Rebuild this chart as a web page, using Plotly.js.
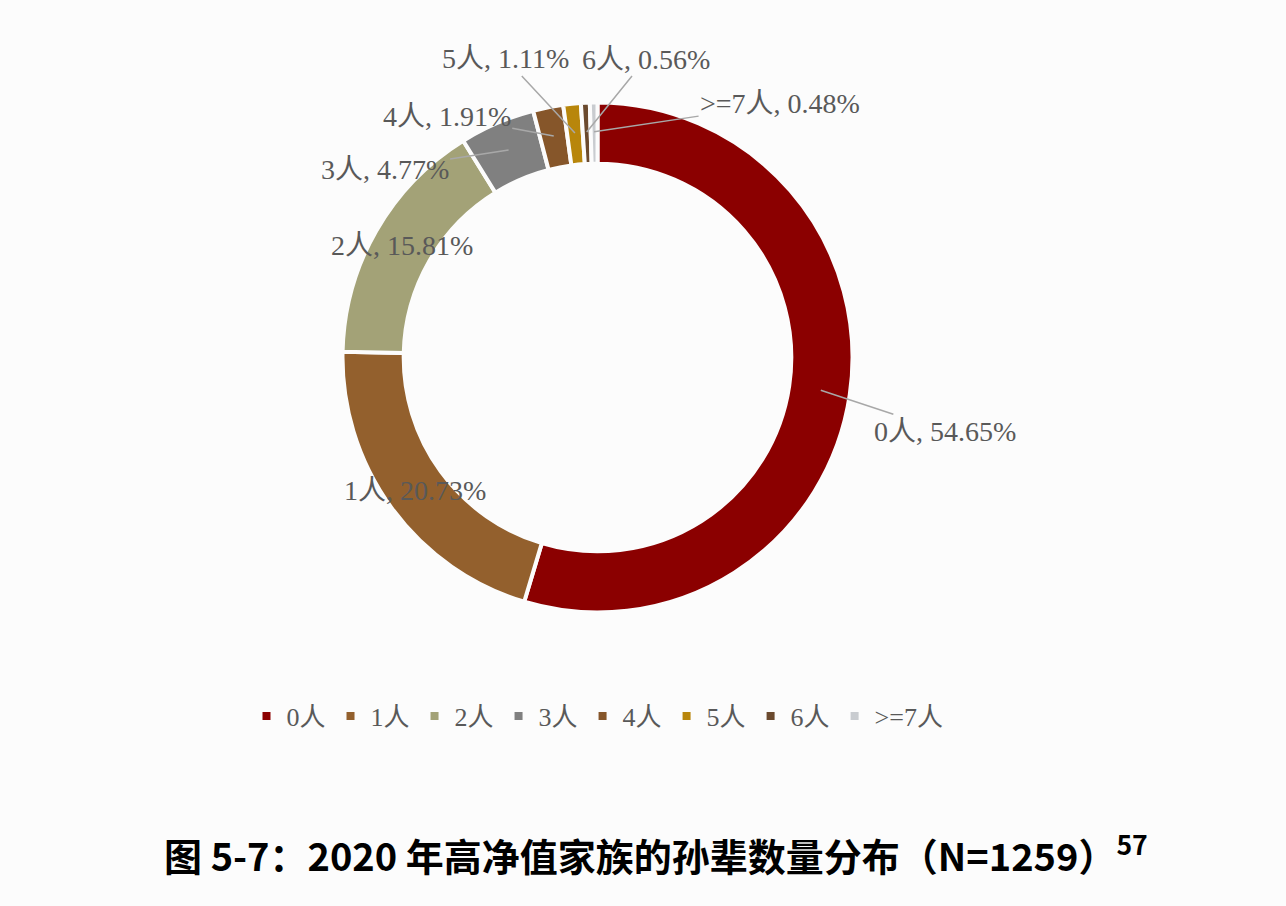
<!DOCTYPE html>
<html>
<head>
<meta charset="utf-8">
<script src="https://cdn.plot.ly/plotly-3.0.1.min.js"></script>
<style>
  html, body { margin: 0; padding: 0; background: #fcfcfc; }
  #chart { width: 1286px; height: 906px; }
</style>
</head>
<body>
<div id="chart"></div>
<script>
// grandchildren count per family, share in percent
const labels = ['0人', '1人', '2人', '3人', '4人', '5人', '6人', '>=7人']
const shares = [54.65, 20.73, 15.81, 4.77, 1.91, 1.11, 0.56, 0.48]
const colors = ['#8b0000', '#93602d', '#a3a277', '#808080', '#86562a', '#b8860b', '#6b4a2e', '#c9ccd0']

// label text offsets from the slice anchor, in pixels (null = label sits on the ring)
const labelOffsets = [[124, 41], null, null, [-124, 19], [-107, -20], [-69, -74], [59, -73], [186, -28]]

const W = 1286
const H = 906
const cx = 597.5
const cy = 357.5
const R = 255

const data = [{
  type: 'pie',
  values: shares,
  labels: labels,
  hole: 0.76,
  sort: false,
  direction: 'clockwise',
  rotation: 0,
  textinfo: 'none',
  hoverinfo: 'label+percent',
  marker: { colors: colors, line: { color: '#fcfcfc', width: 4 } },
  domain: { x: [(cx - R) / W, (cx + R) / W], y: [(H - cy - R) / H, (H - cy + R) / H] }
}]

// one annotation per slice, placed at the middle of the ring
const total = shares.reduce((a, b) => a + b, 0)
const annotations = []
let cum = 0
shares.forEach((v, i) => {
  const mid = (cum + v / 2) / total
  cum += v
  const th = mid * 2 * Math.PI
  const rr = R * 0.885
  const px = cx + rr * Math.sin(th)
  const py = cy - rr * Math.cos(th)
  const off = labelOffsets[i]
  const a = {
    xref: 'paper',
    yref: 'paper',
    x: px / W,
    y: 1 - py / H,
    xanchor: 'center',
    yanchor: 'middle',
    text: labels[i] + ', ' + v.toFixed(2) + '%',
    font: { family: 'Liberation Serif, Noto Sans CJK SC, serif', size: 28, color: '#595959' },
    showarrow: false
  }
  if (off) {
    a.showarrow = true
    a.arrowhead = 0
    a.arrowwidth = 1.5
    a.arrowcolor = '#a8a8a8'
    a.standoff = 0
    a.ax = off[0]
    a.ay = off[1]
  }
  annotations.push(a)
})

annotations.push({
  xref: 'paper',
  yref: 'paper',
  x: 656 / W,
  y: 1 - 853 / H,
  xanchor: 'center',
  yanchor: 'middle',
  text: '<b>图 5-7：2020 年高净值家族的孙辈数量分布（N=1259）<sup>57</sup></b>',
  font: { family: 'Noto Sans CJK SC, sans-serif', size: 38, color: '#000000' },
  showarrow: false
})

const layout = {
  width: W,
  height: H,
  margin: { l: 0, r: 0, t: 0, b: 0 },
  paper_bgcolor: '#fcfcfc',
  plot_bgcolor: '#fcfcfc',
  showlegend: true,
  legend: {
    orientation: 'h',
    x: cx / W,
    xanchor: 'center',
    y: 1 - 716 / H,
    yanchor: 'middle',
    font: { family: 'Liberation Serif, Noto Sans CJK SC, serif', size: 26, color: '#595959' },
    traceorder: 'normal'
  },
  annotations: annotations
}

Plotly.newPlot('chart', data, layout, { displayModeBar: false })
</script>
</body>
</html>
